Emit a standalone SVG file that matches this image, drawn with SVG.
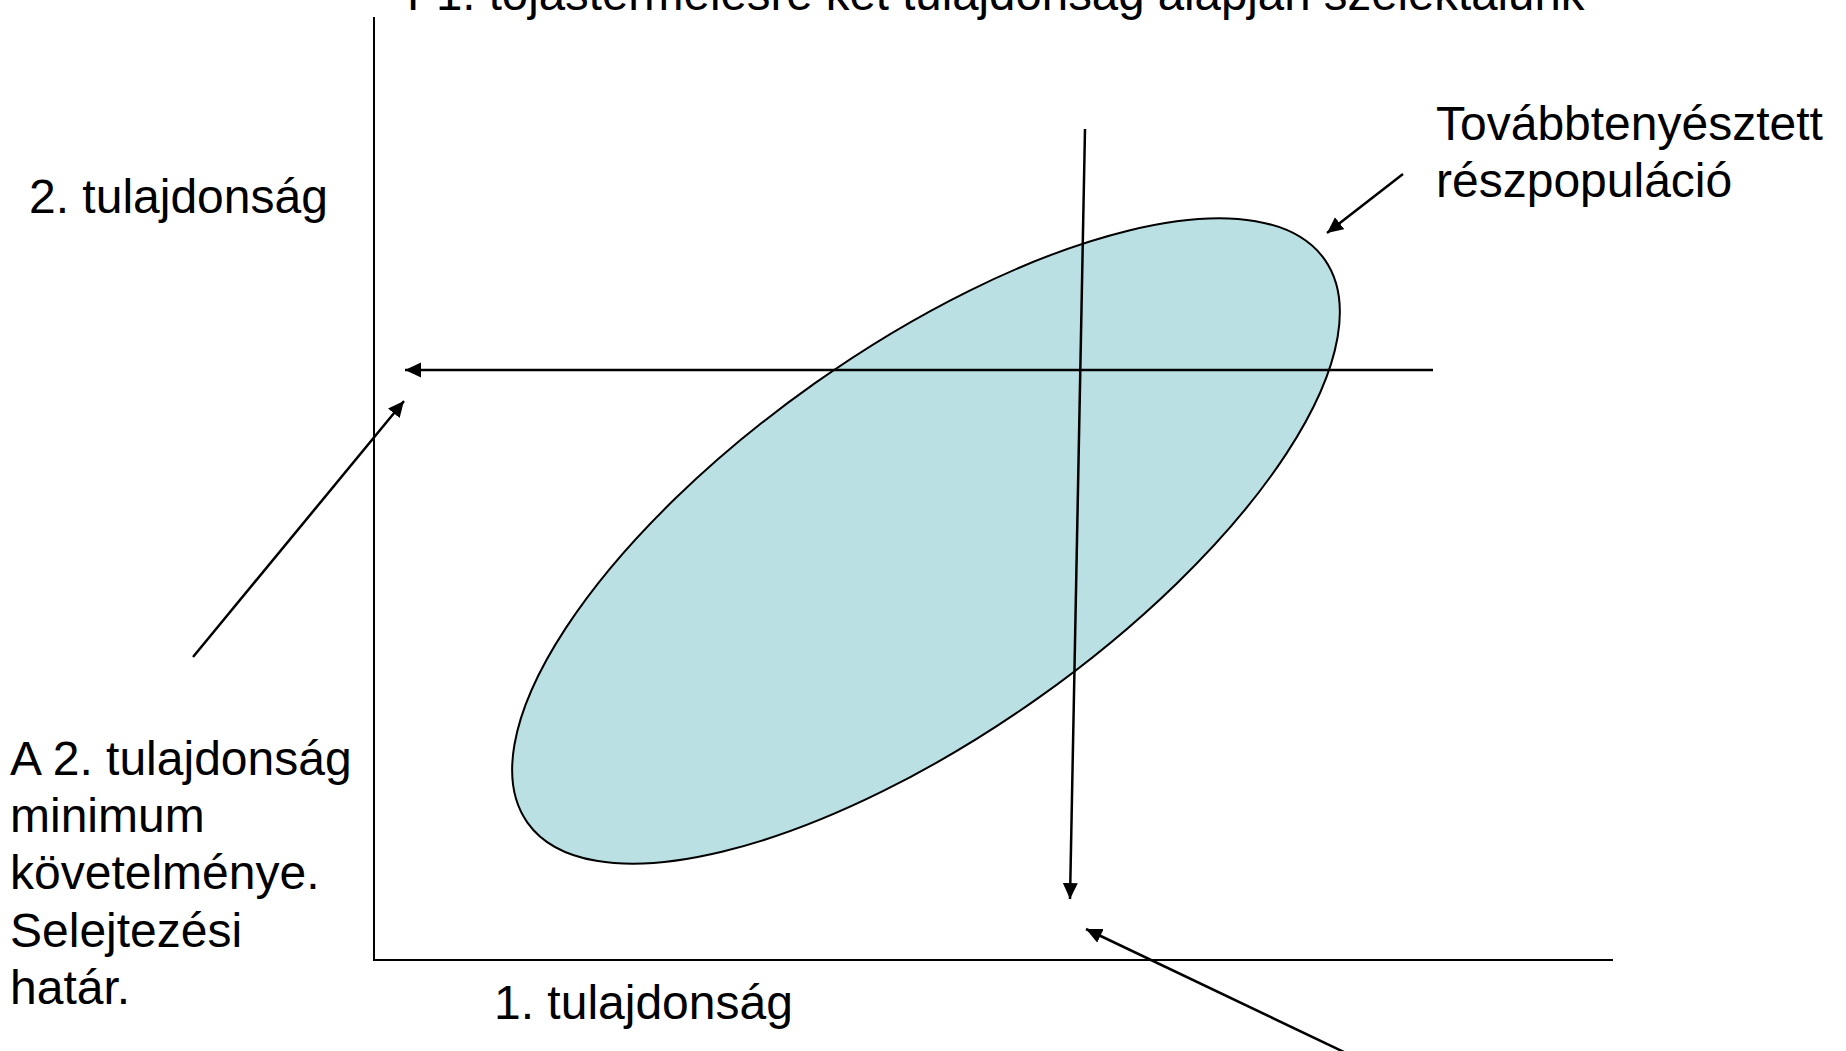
<svg xmlns="http://www.w3.org/2000/svg" width="1846" height="1051" viewBox="0 0 1846 1051">
<style>
text { font-family: "Liberation Sans", Arial, sans-serif; font-size: 48px; fill: #000; }
.axis { stroke: #000; stroke-width: 2; fill: none; }
.arr { stroke: #000; stroke-width: 2.5; fill: none; marker-end: url(#ah); }
</style>
<defs>
<marker id="ah" markerUnits="userSpaceOnUse" markerWidth="18" markerHeight="16" refX="16" refY="7.5" orient="auto">
<path d="M0,0 L16,7.5 L0,15 z" fill="#000"/>
</marker>
</defs>
<rect width="1846" height="1051" fill="#fff"/>
<g id="population">
<ellipse cx="926" cy="541" rx="488" ry="193" transform="rotate(-35.24 926 541)" fill="#BBE0E3" stroke="#000" stroke-width="2"/>
</g>
<g id="axes">
<path class="axis" d="M374,17 L374,960 L1613,960"/>
</g>
<g id="connectors">
<line class="arr" x1="1433" y1="370" x2="405" y2="370"/>
<line class="arr" x1="1085" y1="129" x2="1070" y2="899"/>
<line class="arr" x1="193" y1="657" x2="404" y2="401"/>
<line class="arr" x1="1403" y1="174" x2="1327" y2="233"/>
<line class="arr" x1="1346" y1="1053" x2="1086" y2="929"/>
</g>
<g id="title"><text x="407" y="10" style="font-size:47.4px">F1. tojástermelésre két tulajdonság alapján szelektálunk</text></g>
<g id="y-label"><text x="29" y="213">2. tulajdonság</text></g>
<g id="x-label"><text x="494" y="1019">1. tulajdonság</text></g>
<g id="subpop-label">
<text x="1436" y="140">Továbbtenyésztett</text>
<text x="1436" y="197">részpopuláció</text>
</g>
<g id="threshold-label">
<text x="10" y="775">A 2. tulajdonság</text>
<text x="10" y="832">minimum</text>
<text x="10" y="889">követelménye.</text>
<text x="10" y="947">Selejtezési</text>
<text x="10" y="1004">határ.</text>
</g>
</svg>
